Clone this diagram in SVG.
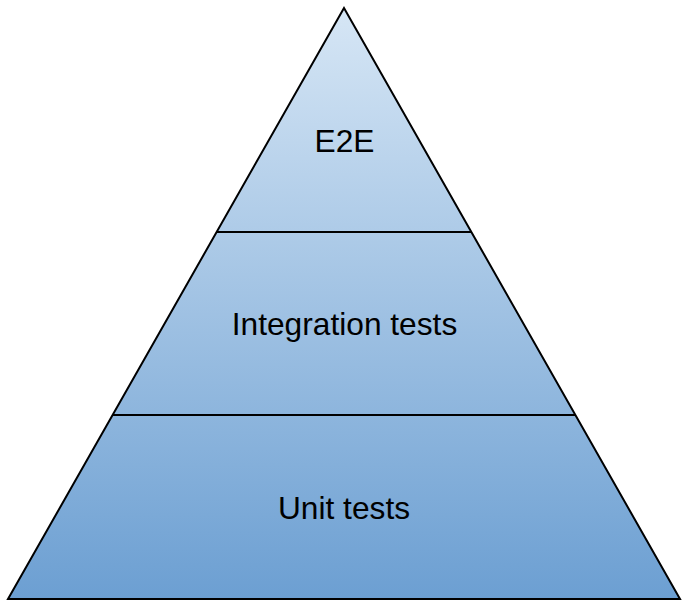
<svg xmlns="http://www.w3.org/2000/svg" width="687" height="609" viewBox="0 0 687 609">
<style>
.edge{stroke:#000;stroke-width:2;fill:none}
.lbl{font-family:"Liberation Sans",Arial,sans-serif;font-size:31.7px;fill:#000;text-anchor:middle}
</style>
<defs>
<linearGradient id="g" gradientUnits="userSpaceOnUse" x1="0" y1="8" x2="0" y2="599">
<stop offset="0" stop-color="#d6e6f5"/>
<stop offset="1" stop-color="#6c9fd2"/>
</linearGradient>
</defs>
<rect width="687" height="609" fill="#fff"/>
<g id="pyramid">
<polygon points="344,8 8,599 680,599" fill="url(#g)" stroke="#000" stroke-width="2" stroke-linejoin="miter"/>
</g>
<g id="connectors">
<line class="edge" x1="216.7" y1="232" x2="471.3" y2="232"/>
<line class="edge" x1="112.6" y1="415" x2="575.4" y2="415"/>
</g>
<g id="e2e"><text class="lbl" x="344.5" y="152">E2E</text></g>
<g id="integration"><text class="lbl" x="344.5" y="335">Integration tests</text></g>
<g id="unit"><text class="lbl" x="344" y="519">Unit tests</text></g>
</svg>
